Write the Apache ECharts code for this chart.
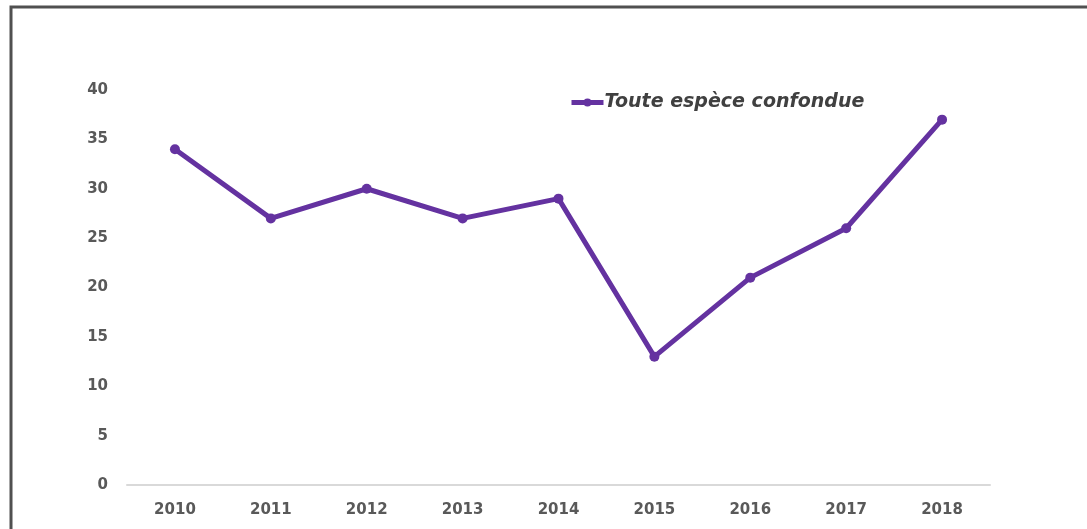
<!DOCTYPE html>
<html>
<head>
<meta charset="utf-8">
<script src="https://cdn.jsdelivr.net/npm/echarts@6/dist/echarts.min.js"></script>
<style>
  html, body { margin: 0; padding: 0; background: #fff; }
  #chart { width: 1087px; height: 529px; }
</style>
</head>
<body>
<div id="chart"></div>
<script>
// Yearly counts, all species combined
const years = ['2010', '2011', '2012', '2013', '2014', '2015', '2016', '2017', '2018'];
const counts = [34, 27, 30, 27, 29, 13, 21, 26, 37];
const seriesName = 'Toute espèce confondue';

const lineColor = '#6432a0';

const chart = echarts.init(document.getElementById('chart'));
chart.setOption({
  backgroundColor: '#ffffff',
  animation: false,
  graphic: [{
    type: 'rect',
    shape: { x: 11, y: 7, width: 1100, height: 600 },
    style: { fill: 'none', stroke: '#505050', lineWidth: 3 },
    silent: true
  }],
  grid: { left: 127, right: 97, top: 90, bottom: 44 },
  legend: {
    left: 564,
    top: 88,
    itemWidth: 32,
    itemHeight: 10,
    itemGap: 4,
    data: [seriesName],
    lineStyle: { width: 5 },
    textStyle: {
      fontFamily: 'DejaVu Sans',
      fontStyle: 'italic',
      fontWeight: 'bold',
      fontSize: 19,
      color: '#404040',
      padding: [0, 0, 0, -4]
    }
  },
  xAxis: {
    type: 'category',
    data: years,
    boundaryGap: true,
    axisLine: { lineStyle: { color: '#d9d9d9', width: 2 } },
    axisTick: { show: false },
    axisLabel: {
      margin: 18,
      fontFamily: 'DejaVu Sans',
      fontWeight: 'bold',
      fontSize: 15,
      color: '#595959'
    }
  },
  yAxis: {
    type: 'value',
    min: 0,
    max: 40,
    interval: 5,
    splitLine: { show: false },
    axisLine: { show: false },
    axisTick: { show: false },
    axisLabel: {
      margin: 19,
      fontFamily: 'DejaVu Sans',
      fontWeight: 'bold',
      fontSize: 15,
      color: '#595959'
    }
  },
  series: [{
    name: seriesName,
    type: 'line',
    data: counts,
    symbol: 'circle',
    symbolSize: 10,
    lineStyle: { color: lineColor, width: 5 },
    itemStyle: { color: lineColor }
  }]
});
</script>
</body>
</html>
